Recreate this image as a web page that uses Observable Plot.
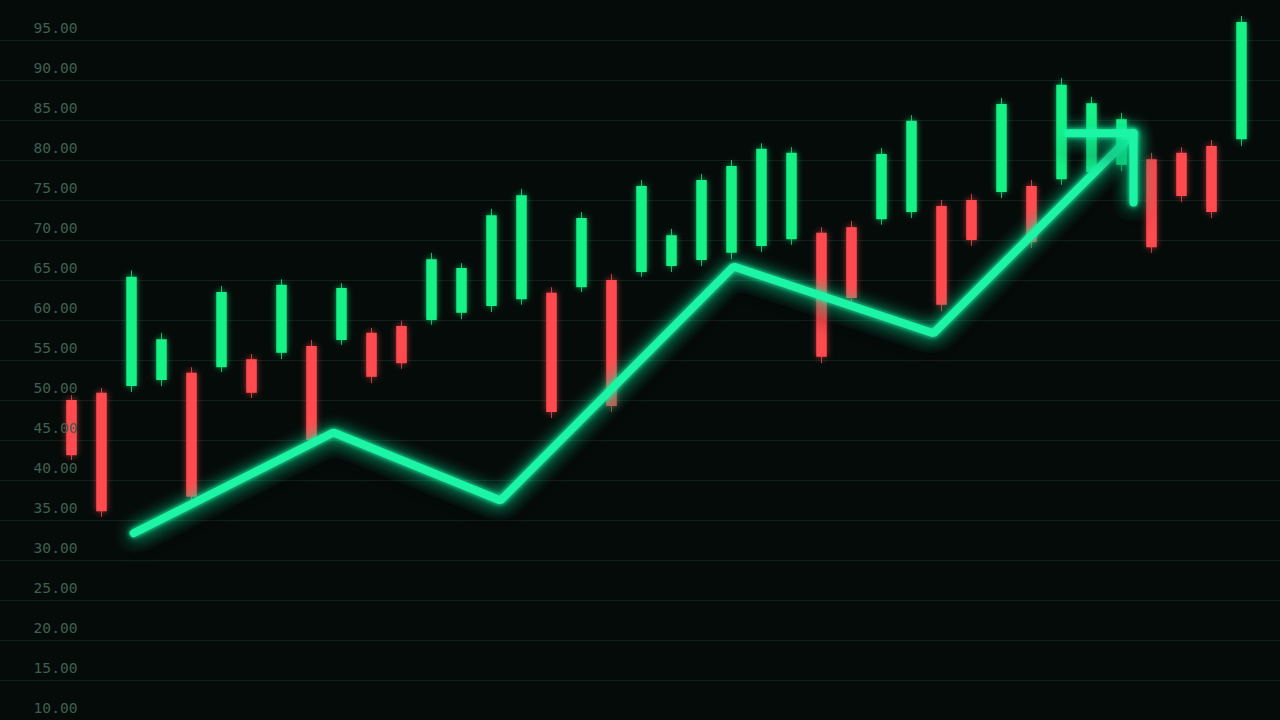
<!DOCTYPE html>
<html>
<head>
<meta charset="utf-8">
<script src="https://cdn.jsdelivr.net/npm/d3@7"></script>
<script src="https://cdn.jsdelivr.net/npm/@observablehq/plot@0.6"></script>
<style>
  html, body { margin: 0; padding: 0; background: #050b09; overflow: hidden; }
  #chart svg { display: block; }
</style>
</head>
<body>
<div id="chart"></div>
<script>
// ---- data ----
const days   = d3.range(1, 41);
const opens  = [50.0, 50.9, 51.75, 52.5, 53.4, 54.1, 55.1, 55.9, 56.75, 57.5,
                58.4, 59.25, 60.0, 60.9, 61.75, 62.6, 63.4, 64.1, 65.0, 66.0,
                66.75, 67.5, 68.4, 69.25, 70.1, 70.9, 71.6, 72.6, 73.5, 74.25,
                75.0, 76.0, 76.75, 77.6, 78.5, 79.4, 80.1, 80.9, 81.75, 82.6];
const closes = [43.1, 36.1, 65.4, 57.6, 37.9, 63.5, 50.9, 64.4, 45.0, 64.0,
                52.9, 54.6, 67.6, 66.5, 73.1, 75.6, 48.5, 72.75, 49.25, 76.75,
                70.6, 77.5, 79.25, 81.4, 80.9, 55.4, 62.75, 80.75, 84.9, 61.9,
                70.0, 87.0, 69.75, 89.4, 87.1, 85.1, 69.1, 75.5, 73.5, 97.25];
const highs  = [50.6, 51.5, 66.2, 58.4, 54.1, 64.25, 55.75, 65.1, 57.5, 64.6,
                59.0, 59.9, 68.4, 67.1, 73.9, 76.4, 64.1, 73.5, 65.75, 77.5,
                71.4, 78.25, 80.0, 82.1, 81.6, 71.6, 72.4, 81.5, 85.6, 75.0,
                75.75, 87.75, 77.5, 90.25, 87.9, 85.9, 80.9, 81.6, 82.5, 98.0];
const lows   = [42.5, 35.4, 51.0, 51.75, 37.1, 53.5, 50.25, 55.1, 44.25, 56.9,
                52.1, 53.9, 59.4, 60.1, 61.0, 61.9, 47.75, 63.5, 48.5, 65.4,
                66.0, 66.75, 67.6, 68.5, 69.4, 54.6, 62.0, 71.9, 72.75, 61.1,
                69.25, 75.25, 69.0, 76.9, 77.75, 78.6, 68.4, 74.75, 72.75, 81.75];

// glowing trend line (x in candle-day units)
const trendX = [3.07, 9.73, 15.3, 23.07, 29.73, 36.4];
const trendY = [33.4, 46.0, 37.5, 66.75, 58.4, 83.4];
// arrow head at the end of the trend line
const arrowX = [34.23, 36.4, 36.4];
const arrowY = [83.4, 83.4, 74.75];

const yTicks = d3.range(10, 100, 5);

// ---- tables ----
const candles = days.map((d, i) => ({
  day: d, open: opens[i], close: closes[i], high: highs[i], low: lows[i],
  up: closes[i] >= opens[i]
}));
const trend = trendX.map((x, i) => ({x, y: trendY[i]}));
const arrow = arrowX.map((x, i) => ({x, y: arrowY[i]}));

const GREEN = "#12f285";
const RED = "#ff4b4f";
const LINE = "#1ff5a6";
const colorOf = d => d.up ? GREEN : RED;

const chart = Plot.plot({
  width: 1280,
  height: 720,
  margin: 0,
  x: {domain: [-41 / 30, 1239 / 30], axis: null},
  y: {domain: [10, 100], axis: null},
  style: {background: "#050b09", overflow: "visible"},
  marks: [
    Plot.gridY(yTicks, {stroke: "#12201b", strokeOpacity: 1, strokeWidth: 1}),
    Plot.ruleX(candles, {x: "day", y1: "low", y2: "high", stroke: colorOf, strokeWidth: 1, strokeOpacity: 0.75}),
    Plot.ruleX(candles, {x: "day", y1: "open", y2: "close", stroke: colorOf, strokeWidth: 10.5}),
    Plot.axisY(yTicks, {
      anchor: "left", tickSize: 0, tickPadding: 0,
      tickFormat: d => d.toFixed(2),
      dx: 77, dy: -12,
      fill: "#3f5f51", fontSize: 14.6,
      fontFamily: "DejaVu Sans Mono, monospace",
      label: null
    }),
    Plot.line(trend, {x: "x", y: "y", stroke: LINE, strokeWidth: 8, strokeLinejoin: "miter", strokeLinecap: "round"}),
    Plot.line(arrow, {x: "x", y: "y", stroke: LINE, strokeWidth: 8, strokeLinejoin: "round", strokeLinecap: "round"})
  ]
});

document.getElementById("chart").appendChild(chart);

// glow effects
const svg = d3.select(chart);
svg.insert("defs", ":first-child").html(`
  <filter id="lineGlow" filterUnits="userSpaceOnUse" x="0" y="0" width="1280" height="720">
    <feGaussianBlur in="SourceAlpha" stdDeviation="12" result="sa"/>
    <feOffset in="sa" dy="12" result="so"/>
    <feComponentTransfer in="so" result="shadow"><feFuncA type="linear" slope="0.85"/></feComponentTransfer>
    <feGaussianBlur in="SourceGraphic" stdDeviation="8" result="g1"/>
    <feComponentTransfer in="g1" result="glow"><feFuncA type="linear" slope="0.9"/></feComponentTransfer>
    <feGaussianBlur in="SourceGraphic" stdDeviation="2.5" result="g2"/>
    <feMerge><feMergeNode in="shadow"/><feMergeNode in="glow"/><feMergeNode in="g2"/><feMergeNode in="SourceGraphic"/></feMerge>
  </filter>
  <filter id="candleGlow" filterUnits="userSpaceOnUse" x="0" y="0" width="1280" height="720">
    <feGaussianBlur in="SourceGraphic" stdDeviation="3" result="g1"/>
    <feComponentTransfer in="g1" result="glow"><feFuncA type="linear" slope="0.6"/></feComponentTransfer>
    <feMerge><feMergeNode in="glow"/><feMergeNode in="SourceGraphic"/></feMerge>
  </filter>`);
svg.selectAll('g[aria-label="line"]').attr("filter", "url(#lineGlow)");
svg.selectAll('g[aria-label="rule"]').attr("filter", "url(#candleGlow)");
</script>
</body>
</html>
